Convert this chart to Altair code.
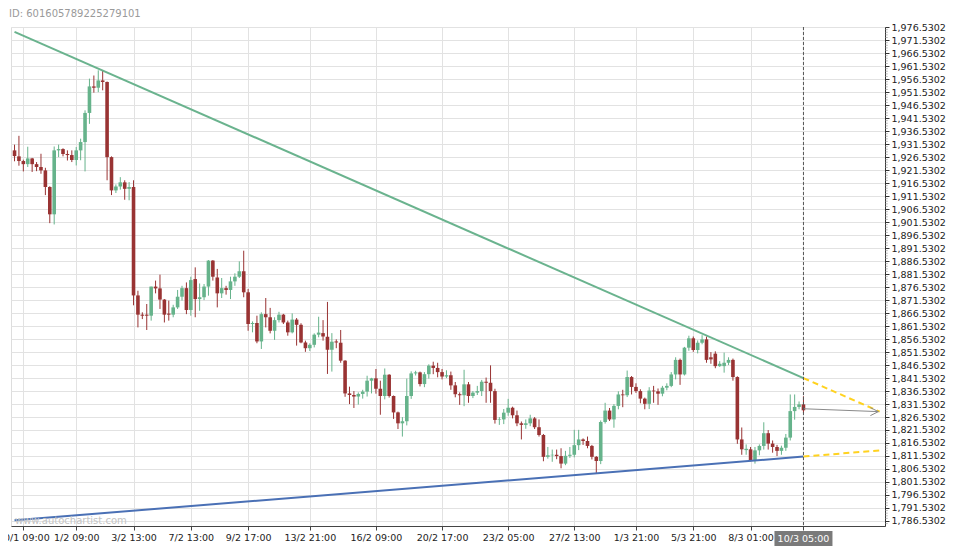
import altair as alt
import pandas as pd

# ---- candle data (4h candles), index 0..179 ----
opens = [1929.1,1926.8,1925.0,1923.8,1926.0,1923.8,1922.7,1921.4,1915.0,1904.5,
         1929.1,1929.6,1927.7,1927.3,1925.4,1929.1,1932.3,1943.5,1953.7,1953.2,
         1956.0,1955.4,1926.5,1913.7,1915.2,1916.8,1914.3,1915.0,1873.3,1865.9,
         1865.9,1865.5,1876.7,1876.0,1871.7,1866.3,1865.9,1868.7,1872.8,1876.1,
         1867.7,1879.6,1871.9,1872.6,1876.7,1886.7,1880.2,1874.1,1876.1,1875.4,
         1878.7,1880.5,1882.6,1874.5,1862.3,1862.7,1855.6,1866.1,1864.9,1859.7,
         1863.8,1865.9,1862.9,1859.1,1864.0,1862.0,1855.2,1853.0,1854.3,1858.2,
         1858.8,1857.4,1852.4,1855.6,1855.1,1848.2,1835.6,1835.0,1834.4,1835.4,
         1836.3,1840.5,1841.4,1837.4,1834.6,1842.8,1834.6,1828.3,1824.1,1824.9,
         1834.6,1843.3,1843.7,1839.2,1843.0,1846.3,1845.4,1843.8,1842.1,1842.6,
         1838.7,1835.3,1834.9,1839.1,1834.6,1835.9,1836.5,1840.1,1839.7,1836.5,
         1825.4,1825.6,1828.2,1830.1,1827.2,1824.1,1823.5,1824.1,1826.0,1822.6,
         1819.6,1811.2,1811.8,1812.0,1811.5,1808.6,1811.6,1812.0,1815.7,1817.9,
         1817.3,1815.4,1811.2,1809.6,1824.6,1829.0,1825.6,1830.8,1835.2,1834.9,
         1841.9,1838.1,1836.5,1833.6,1831.6,1836.7,1836.4,1835.5,1837.8,1838.5,
         1842.9,1848.5,1842.9,1853.2,1856.8,1852.3,1855.1,1856.4,1849.5,1850.9,
         1846.1,1846.1,1847.4,1848.5,1841.9,1817.9,1813.8,1814.1,1809.9,1813.7,
         1815.4,1820.3,1816.3,1815.0,1813.5,1814.7,1818.6,1828.8,1830.4,1831.4]
highs = [1931.3,1934.7,1925.5,1930.5,1926.2,1924.6,1927.8,1922.4,1915.3,1930.6,
         1931.3,1929.9,1929.1,1929.1,1930.4,1933.6,1944.5,1956.7,1957.9,1959.9,
         1959.9,1955.6,1926.8,1916.0,1918.8,1917.6,1916.9,1917.6,1875.1,1866.8,
         1870.0,1876.7,1879.0,1881.3,1871.9,1871.3,1869.7,1875.4,1877.0,1878.3,
         1880.5,1884.1,1877.9,1877.7,1886.9,1886.9,1883.5,1880.0,1877.0,1880.5,
         1881.8,1886.4,1890.5,1875.8,1863.3,1865.5,1866.8,1872.3,1868.5,1864.9,
         1867.0,1866.2,1863.6,1866.4,1864.6,1862.6,1855.9,1854.9,1858.7,1865.1,
         1863.8,1870.8,1858.8,1856.4,1860.0,1848.4,1838.2,1836.5,1836.0,1837.0,
         1842.4,1841.6,1845.0,1840.5,1845.2,1843.0,1834.8,1828.6,1826.5,1841.3,
         1844.1,1844.3,1844.0,1843.8,1846.8,1847.8,1847.4,1845.0,1844.5,1844.0,
         1840.0,1836.0,1844.7,1840.0,1836.5,1838.5,1840.8,1841.7,1846.4,1837.4,
         1826.5,1829.6,1833.5,1830.5,1829.0,1824.8,1825.6,1827.4,1826.5,1825.6,
         1820.0,1815.0,1814.0,1814.0,1814.5,1813.5,1815.0,1821.6,1821.6,1818.3,
         1819.0,1815.8,1811.5,1825.2,1832.0,1830.0,1831.5,1836.4,1837.0,1844.4,
         1842.3,1839.5,1837.2,1834.0,1838.0,1838.5,1837.5,1838.5,1839.5,1843.8,
         1849.5,1849.0,1853.5,1857.8,1857.5,1856.0,1858.0,1857.5,1851.5,1851.8,
         1848.0,1851.3,1849.5,1849.0,1842.2,1822.5,1816.0,1815.0,1815.0,1816.0,
         1824.5,1821.5,1817.5,1815.8,1815.5,1820.0,1835.2,1835.2,1832.5,1834.5]
lows = [1924.9,1923.2,1921.0,1922.7,1920.8,1921.1,1920.1,1911.9,1901.1,1900.6,
        1926.5,1926.8,1925.2,1924.6,1923.3,1925.3,1921.0,1939.3,1951.3,1951.5,
        1952.2,1917.6,1911.9,1912.7,1914.0,1910.1,1909.9,1869.5,1861.0,1864.2,
        1860.0,1863.6,1874.1,1868.1,1862.9,1863.6,1864.9,1868.1,1871.3,1866.1,
        1865.5,1864.9,1867.4,1871.5,1873.2,1879.0,1868.7,1872.3,1873.6,1871.9,
        1877.0,1880.0,1872.6,1859.7,1859.1,1854.9,1852.7,1861.0,1858.7,1856.2,
        1862.9,1862.3,1857.8,1858.7,1854.0,1854.9,1851.6,1851.9,1853.3,1857.2,
        1855.9,1843.1,1844.0,1853.0,1847.4,1834.3,1831.5,1830.0,1831.3,1833.6,
        1834.4,1835.6,1835.5,1827.4,1833.3,1834.0,1825.8,1821.9,1819.0,1823.3,
        1833.5,1842.5,1838.3,1838.0,1841.3,1843.0,1841.8,1841.0,1841.5,1837.0,
        1834.1,1831.2,1830.7,1832.0,1833.8,1835.0,1834.6,1832.0,1832.0,1824.0,
        1823.5,1823.8,1827.0,1826.0,1823.0,1817.9,1822.0,1823.0,1821.9,1819.0,
        1809.5,1810.5,1809.3,1810.3,1806.8,1808.0,1810.8,1811.0,1813.8,1815.8,
        1814.5,1810.2,1805.0,1808.4,1824.0,1825.0,1822.4,1829.5,1830.3,1834.2,
        1835.2,1835.8,1831.8,1829.5,1829.6,1832.0,1831.2,1834.5,1836.8,1838.0,
        1841.0,1838.9,1842.5,1852.0,1851.6,1851.0,1854.5,1847.4,1847.0,1845.3,
        1845.8,1843.6,1846.5,1840.5,1816.2,1812.0,1812.0,1809.5,1808.6,1811.8,
        1814.0,1814.0,1812.8,1811.5,1812.0,1813.5,1817.5,1825.5,1829.5,1828.0]
closes = [1926.9,1925.0,1923.8,1926.0,1923.8,1922.7,1921.4,1915.0,1904.5,1929.1,
          1929.6,1927.7,1927.3,1925.4,1929.1,1932.3,1943.5,1953.7,1953.2,1956.0,
          1955.4,1926.5,1913.7,1915.2,1916.8,1914.3,1915.0,1873.3,1865.9,1865.5,
          1865.5,1876.7,1876.0,1871.7,1865.9,1865.9,1868.7,1872.8,1876.1,1867.7,
          1879.2,1871.9,1872.6,1876.7,1886.7,1880.5,1874.1,1876.1,1875.4,1878.7,
          1880.5,1882.6,1874.5,1862.3,1862.7,1855.6,1866.1,1864.9,1859.7,1863.8,
          1865.9,1862.9,1859.1,1864.0,1862.0,1855.2,1853.0,1854.3,1858.2,1859.0,
          1857.5,1852.4,1855.5,1855.2,1848.2,1835.6,1835.0,1834.4,1835.4,1836.3,
          1840.5,1841.4,1837.4,1834.6,1842.8,1834.6,1828.3,1824.1,1824.9,1834.6,
          1843.3,1843.7,1839.2,1843.0,1846.3,1845.4,1843.8,1842.1,1842.6,1838.7,
          1835.3,1834.9,1839.1,1834.6,1835.9,1836.5,1840.1,1839.7,1836.5,1825.4,
          1825.6,1828.2,1830.1,1827.2,1824.1,1823.5,1824.1,1826.0,1822.6,1819.6,
          1811.2,1811.8,1812.0,1811.5,1808.6,1811.6,1812.0,1815.7,1817.9,1817.3,
          1815.4,1811.2,1809.6,1824.6,1829.0,1825.6,1830.8,1835.2,1834.9,1841.9,
          1838.1,1836.5,1833.6,1831.6,1836.7,1836.4,1835.5,1837.8,1838.5,1842.9,
          1848.5,1842.9,1853.2,1856.8,1852.3,1855.1,1856.4,1848.5,1848.7,1846.1,
          1847.0,1847.4,1848.5,1841.9,1817.9,1814.1,1814.3,1809.9,1813.7,1815.4,
          1820.3,1816.3,1815.0,1813.5,1814.7,1818.6,1828.8,1830.4,1831.4,1829.1]

# ---- axis labels ----
tick_idx = [2, 14, 27, 40, 53, 67, 82, 97, 112, 127, 141, 154, 167, 179]
tick_labels = ["30/1 09:00", "1/2 09:00", "3/2 13:00", "7/2 13:00", "9/2 17:00",
               "13/2 21:00", "16/2 09:00", "20/2 17:00", "23/2 05:00", "27/2 13:00",
               "1/3 21:00", "5/3 21:00", "8/3 01:00", "10/3 05:00"]
y_ticks = [round(1786.5302 + 5 * k, 4) for k in range(39)]
y_minor = [round(1785.5302 + k, 4) for k in range(191) if k % 5 != 1]

# ---- pattern lines ----
res_x, res_y = [0, 179], [1974.7, 1841.5]
res_proj_x, res_proj_y = [179, 196.3], [1841.5, 1828.6]
sup_x, sup_y = [0, 179], [1786.8, 1811.3]
sup_proj_x, sup_proj_y = [179, 196.3], [1811.3, 1813.7]
arrow_x, arrow_y = [179, 196.0], [1829.7, 1828.6]

UP, DOWN = "#66b38b", "#993333"
FONT = "DejaVu Sans"
X_MIN, X_MAX = -0.8, 197.5

n = len(opens)
candles = pd.DataFrame({
    "i": list(range(n)), "o": opens, "h": highs, "l": lows, "c": closes,
})
candles["col"] = [UP if c >= o else DOWN for o, c in zip(opens, closes)]

def seg(xs, ys):
    return pd.DataFrame({"i": xs, "p": ys})

label_expr = "''"
for t, lab in zip(tick_idx[::-1], tick_labels[::-1]):
    txt = "" if t == tick_idx[-1] else lab
    label_expr = f"datum.value == {t} ? '{txt}' : ({label_expr})"

xscale = alt.Scale(domain=[X_MIN, X_MAX], nice=False, zero=False, padding=0)
yscale = alt.Scale(domain=[1784.6, 1976.56], nice=False, zero=False, padding=0)
xaxis = alt.Axis(values=tick_idx, labelExpr=label_expr, title=None, grid=True,
                 gridColor="#e2e2e2", domainColor="#444", tickColor="#444",
                 tickSize=4, labelPadding=2, labelFont=FONT, labelFontSize=9.5,
                 labelColor="#222", labelOverlap=False, labelFlush=False)
yaxis = alt.Axis(orient="right", values=y_ticks, format=",.4f", title=None, grid=True,
                 gridColor="#e2e2e2", domainColor="#333", tickColor="#333",
                 tickSize=4, labelPadding=2, labelFont=FONT, labelFontSize=9.5,
                 labelColor="#222", labelOverlap=False, labelFlush=False)

def X(field="i"):
    return alt.X(f"{field}:Q", scale=xscale, axis=xaxis)

def Y(field):
    return alt.Y(f"{field}:Q", scale=yscale, axis=yaxis)

base = alt.Chart(candles)
wicks = base.mark_rule(strokeWidth=1).encode(
    x=X(), y=Y("l"), y2="h:Q", color=alt.Color("col:N", scale=None))
bodies = base.mark_bar(width=3.6).encode(
    x=X(), y=Y("o"), y2="c:Q", color=alt.Color("col:N", scale=None))

res_line = alt.Chart(seg(res_x, res_y)).mark_line(color="#6ab38e", strokeWidth=2).encode(x=X(), y=Y("p"))
sup_line = alt.Chart(seg(sup_x, sup_y)).mark_line(color="#4a70b5", strokeWidth=2).encode(x=X(), y=Y("p"))
res_proj = alt.Chart(seg(res_proj_x, res_proj_y)).mark_line(
    color="#ffd21f", strokeWidth=2, strokeDash=[6, 4]).encode(x=X(), y=Y("p"))
sup_proj = alt.Chart(seg(sup_proj_x, sup_proj_y)).mark_line(
    color="#ffd21f", strokeWidth=2, strokeDash=[6, 4]).encode(x=X(), y=Y("p"))
arrow = alt.Chart(seg(arrow_x, arrow_y)).mark_line(color="#8a8a8a", strokeWidth=1).encode(x=X(), y=Y("p"))
head = alt.Chart(seg(arrow_x[1:], arrow_y[1:])).mark_point(
    shape="M-1,-0.5L0,0L-1,0.5", filled=False, size=256, color="#8a8a8a",
    strokeWidth=1, opacity=1).encode(x=X(), y=Y("p"))

# minor ticks on the price axis
minor = alt.Chart(pd.DataFrame({"i": [X_MAX] * len(y_minor), "p": y_minor})).mark_tick(
    orient="horizontal", size=2.5, thickness=1, xOffset=1.5, color="#9a9a9a").encode(
    x=X(), y=Y("p"))

now = pd.DataFrame({"i": [tick_idx[-1]], "label": [tick_labels[-1]]})
now_rule = alt.Chart(now).mark_rule(color="#555", strokeWidth=1, strokeDash=[3, 2]).encode(x=X())
now_box = alt.Chart(now).mark_rule(color="#7a7a7a", strokeWidth=58, strokeCap="butt").encode(
    x=X(), y=alt.value(504), y2=alt.value(519))
now_txt = alt.Chart(now).mark_text(color="white", font=FONT, fontSize=9.5, baseline="middle").encode(
    x=X(), y=alt.value(511.5), text="label:N")

wm = alt.Chart(pd.DataFrame({"t": ["www.autochartist.com"]})).mark_text(
    align="left", baseline="middle", color="#c4c4c4", font=FONT, fontSize=10).encode(
    x=alt.value(4), y=alt.value(494), text="t:N")

chart = alt.layer(
    wicks, bodies, res_line, sup_line, res_proj, sup_proj, arrow, head,
    minor, now_rule, wm, now_box, now_txt
).properties(
    width=874, height=499,
    padding={"left": 3, "top": 19, "right": 67, "bottom": 20},
    autosize=alt.AutoSizeParams(type="none"),
    title=alt.TitleParams("ID: 601605789225279101", anchor="start", frame="group",
                          fontSize=10, fontWeight="normal", color="#9a9a9a", font=FONT,
                          offset=3, dx=-2),
).configure_view(stroke=None).configure(background="white")

chart.save("out.html", embed_options={"renderer": "svg", "actions": False})
